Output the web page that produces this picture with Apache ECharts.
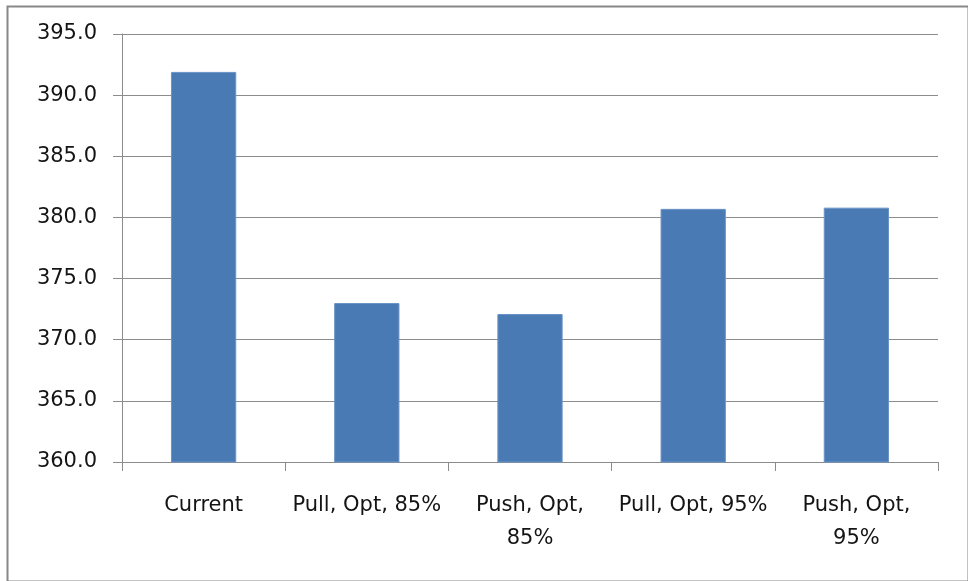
<!DOCTYPE html>
<html>
<head>
<meta charset="utf-8">
<style>
  html, body { margin: 0; padding: 0; background: #ffffff; }
  #chart { width: 968px; height: 581px; }
</style>
<script src="https://cdn.jsdelivr.net/npm/echarts@6/dist/echarts.min.js"></script>
</head>
<body>
<div id="chart"></div>
<script>
// Scenario names and their totals
const categories = ['Current', 'Pull, Opt, 85%', 'Push, Opt, 85%', 'Pull, Opt, 95%', 'Push, Opt, 95%'];
const values = [391.9, 373.0, 372.1, 380.7, 380.8];
// Category tick labels as they wrap under each bar
const tickLabels = ['Current', 'Pull, Opt, 85%', 'Push, Opt,\n85%', 'Pull, Opt, 95%', 'Push, Opt,\n95%'];

const axisGray = '#8c8c8c';
const textColor = '#141414';
const fontFamily = '"DejaVu Sans", sans-serif';

const chart = echarts.init(document.getElementById('chart'), null, { renderer: 'canvas' });

chart.setOption({
  animation: false,
  backgroundColor: '#ffffff',
  graphic: [{
    type: 'rect',
    left: 5,
    top: 4,
    shape: { width: 961, height: 575 },
    style: { fill: 'none', stroke: '#888888', lineWidth: 2 },
    silent: true
  }],
  grid: { left: 122, right: 30, top: 34, bottom: 119, containLabel: false },
  xAxis: {
    type: 'category',
    data: categories,
    boundaryGap: true,
    axisLine: { show: true, lineStyle: { color: axisGray, width: 1 } },
    axisTick: { show: true, length: 9, alignWithLabel: false, lineStyle: { color: axisGray } },
    axisLabel: {
      interval: 0,
      margin: 27,
      color: textColor,
      fontFamily: fontFamily,
      fontSize: 21,
      lineHeight: 33,
      formatter: function (value, index) { return tickLabels[index]; }
    },
    splitLine: { show: false }
  },
  yAxis: {
    type: 'value',
    min: 360,
    max: 395,
    interval: 5,
    axisLine: { show: true, lineStyle: { color: axisGray, width: 1 } },
    axisTick: { show: true, length: 9, lineStyle: { color: axisGray } },
    axisLabel: {
      margin: 25,
      color: textColor,
      fontFamily: fontFamily,
      fontSize: 21,
      formatter: function (v) { return v.toFixed(1); }
    },
    splitLine: { show: true, lineStyle: { color: axisGray, width: 1 } }
  },
  series: [{
    type: 'bar',
    data: values,
    barWidth: '40%',
    itemStyle: { color: '#4a7ab4', borderColor: '#6a93c6', borderWidth: 1 }
  }]
});
</script>
</body>
</html>
